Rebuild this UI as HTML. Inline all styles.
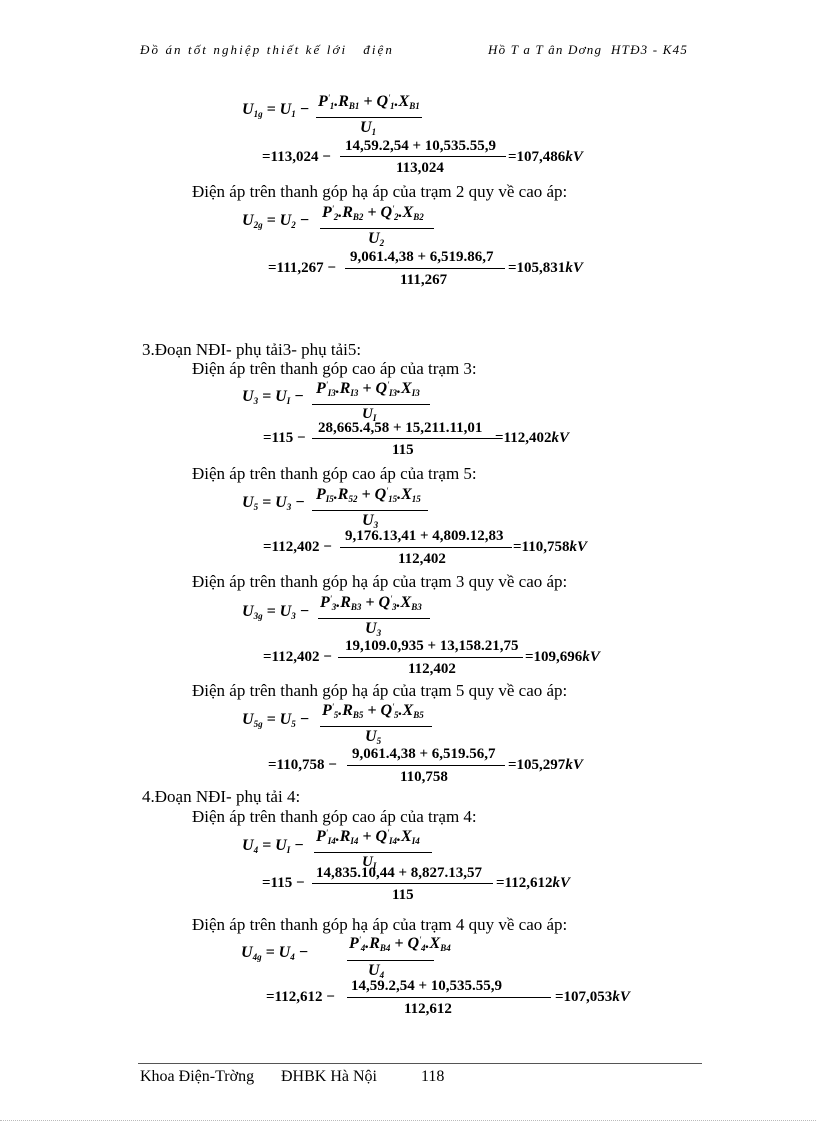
<!DOCTYPE html>
<html><head><meta charset="utf-8"><style>
body{margin:0;background:#fff}
#p{position:relative;width:816px;height:1123px;overflow:hidden;background:#fff;color:#000;font-family:"Liberation Serif",serif}
.a{position:absolute;white-space:nowrap;line-height:18px}
.tx{font-size:17px}
.m{font-size:16px;font-weight:bold;font-style:italic}
.n{font-size:15px;font-weight:bold}
.n i{font-style:italic}
sub{font-size:9px;vertical-align:-3px;line-height:0}
sup{font-size:9px;vertical-align:5px;line-height:0;font-weight:normal}
.b{position:absolute;height:1px;background:#000}
.h{font-size:13px;font-style:italic;letter-spacing:1.2px}
</style></head><body><div id="p">

<div class="a h" style="left:140px;top:41px;letter-spacing:2.1px">Đồ án tốt nghiệp thiết kế lới &nbsp; điện</div>
<div class="a h" style="left:488px;top:41px">Hồ T a T ân Dơng &nbsp;HTĐ3 - K45</div>

<!-- U1g -->
<div class="a m" style="left:242px;top:101px">U<sub>1g</sub> = U<sub>1</sub> −</div>
<div class="a m" style="left:318px;top:93px">P<sup>'</sup><sub>1</sub>.R<sub>B1</sub> + Q<sup>'</sup><sub>1</sub>.X<sub>B1</sub></div>
<div class="b" style="left:316px;width:106px;top:117px"></div>
<div class="a m" style="left:360px;top:119px">U<sub>1</sub></div>
<div class="a n" style="left:262px;top:148px">=113,024 −</div>
<div class="a n" style="left:345px;top:137px">14,59.2,54 + 10,535.55,9</div>
<div class="b" style="left:340px;width:166px;top:156px"></div>
<div class="a n" style="left:396px;top:159px">113,024</div>
<div class="a n" style="left:508px;top:148px">=107,486<i>kV</i></div>

<div class="a tx" style="left:192px;top:183px">Điện áp trên thanh góp hạ áp của trạm 2 quy về cao áp:</div>
<div class="a m" style="left:242px;top:212px">U<sub>2g</sub> = U<sub>2</sub> −</div>
<div class="a m" style="left:322px;top:204px">P<sup>'</sup><sub>2</sub>.R<sub>B2</sub> + Q<sup>'</sup><sub>2</sub>.X<sub>B2</sub></div>
<div class="b" style="left:320px;width:114px;top:228px"></div>
<div class="a m" style="left:368px;top:230px">U<sub>2</sub></div>
<div class="a n" style="left:268px;top:259px">=111,267 −</div>
<div class="a n" style="left:350px;top:248px">9,061.4,38 + 6,519.86,7</div>
<div class="b" style="left:345px;width:160px;top:268px"></div>
<div class="a n" style="left:400px;top:271px">111,267</div>
<div class="a n" style="left:508px;top:259px">=105,831<i>kV</i></div>

<div class="a tx" style="left:142px;top:341px">3.Đoạn NĐI- phụ tải3- phụ tải5:</div>
<div class="a tx" style="left:192px;top:360px">Điện áp trên thanh góp cao áp của trạm 3:</div>
<div class="a m" style="left:242px;top:388px">U<sub>3</sub> = U<sub>I</sub> −</div>
<div class="a m" style="left:316px;top:380px">P<sup>'</sup><sub>I3</sub>.R<sub>I3</sub> + Q<sup>'</sup><sub>I3</sub>.X<sub>I3</sub></div>
<div class="b" style="left:312px;width:118px;top:404px"></div>
<div class="a m" style="left:362px;top:405px;font-size:15px">U<sub>I</sub></div>
<div class="a n" style="left:263px;top:429px">=115 −</div>
<div class="a n" style="left:318px;top:419px">28,665.4,58 + 15,211.11,01</div>
<div class="b" style="left:312px;width:185px;top:438px"></div>
<div class="a n" style="left:392px;top:441px">115</div>
<div class="a n" style="left:495px;top:429px">=112,402<i>kV</i></div>

<div class="a tx" style="left:192px;top:465px">Điện áp trên thanh góp cao áp của trạm 5:</div>
<div class="a m" style="left:242px;top:494px">U<sub>5</sub> = U<sub>3</sub> −</div>
<div class="a m" style="left:316px;top:486px">P<sub>I5</sub>.R<sub>52</sub> + Q<sup>'</sup><sub>15</sub>.X<sub>15</sub></div>
<div class="b" style="left:312px;width:116px;top:510px"></div>
<div class="a m" style="left:362px;top:512px">U<sub>3</sub></div>
<div class="a n" style="left:263px;top:538px">=112,402 −</div>
<div class="a n" style="left:345px;top:527px">9,176.13,41 + 4,809.12,83</div>
<div class="b" style="left:340px;width:172px;top:547px"></div>
<div class="a n" style="left:398px;top:550px">112,402</div>
<div class="a n" style="left:513px;top:538px">=110,758<i>kV</i></div>

<div class="a tx" style="left:192px;top:573px">Điện áp trên thanh góp hạ áp của trạm 3 quy về cao áp:</div>
<div class="a m" style="left:242px;top:603px">U<sub>3g</sub> = U<sub>3</sub> −</div>
<div class="a m" style="left:320px;top:594px">P<sup>'</sup><sub>3</sub>.R<sub>B3</sub> + Q<sup>'</sup><sub>3</sub>.X<sub>B3</sub></div>
<div class="b" style="left:318px;width:112px;top:618px"></div>
<div class="a m" style="left:365px;top:620px">U<sub>3</sub></div>
<div class="a n" style="left:263px;top:648px">=112,402 −</div>
<div class="a n" style="left:345px;top:637px">19,109.0,935 + 13,158.21,75</div>
<div class="b" style="left:338px;width:185px;top:657px"></div>
<div class="a n" style="left:408px;top:660px">112,402</div>
<div class="a n" style="left:525px;top:648px">=109,696<i>kV</i></div>

<div class="a tx" style="left:192px;top:682px">Điện áp trên thanh góp hạ áp của trạm 5 quy về cao áp:</div>
<div class="a m" style="left:242px;top:711px">U<sub>5g</sub> = U<sub>5</sub> −</div>
<div class="a m" style="left:322px;top:702px">P<sup>'</sup><sub>5</sub>.R<sub>B5</sub> + Q<sup>'</sup><sub>5</sub>.X<sub>B5</sub></div>
<div class="b" style="left:320px;width:112px;top:726px"></div>
<div class="a m" style="left:365px;top:728px">U<sub>5</sub></div>
<div class="a n" style="left:268px;top:756px">=110,758 −</div>
<div class="a n" style="left:352px;top:745px">9,061.4,38 + 6,519.56,7</div>
<div class="b" style="left:347px;width:158px;top:765px"></div>
<div class="a n" style="left:400px;top:768px">110,758</div>
<div class="a n" style="left:508px;top:756px">=105,297<i>kV</i></div>

<div class="a tx" style="left:142px;top:788px">4.Đoạn NĐI- phụ tải 4:</div>
<div class="a tx" style="left:192px;top:808px">Điện áp trên thanh góp cao áp của trạm 4:</div>
<div class="a m" style="left:242px;top:837px">U<sub>4</sub> = U<sub>I</sub> −</div>
<div class="a m" style="left:316px;top:828px">P<sup>'</sup><sub>I4</sub>.R<sub>I4</sub> + Q<sup>'</sup><sub>I4</sub>.X<sub>I4</sub></div>
<div class="b" style="left:314px;width:118px;top:852px"></div>
<div class="a m" style="left:362px;top:853px;font-size:15px">U<sub>I</sub></div>
<div class="a n" style="left:262px;top:874px">=115 −</div>
<div class="a n" style="left:316px;top:864px">14,835.10,44 + 8,827.13,57</div>
<div class="b" style="left:312px;width:181px;top:883px"></div>
<div class="a n" style="left:392px;top:886px">115</div>
<div class="a n" style="left:496px;top:874px">=112,612<i>kV</i></div>

<div class="a tx" style="left:192px;top:916px">Điện áp trên thanh góp hạ áp của trạm 4 quy về cao áp:</div>
<div class="a m" style="left:241px;top:944px">U<sub>4g</sub> = U<sub>4</sub> −</div>
<div class="a m" style="left:349px;top:935px">P<sup>'</sup><sub>4</sub>.R<sub>B4</sub> + Q<sup>'</sup><sub>4</sub>.X<sub>B4</sub></div>
<div class="b" style="left:347px;width:87px;top:960px"></div>
<div class="a m" style="left:368px;top:962px">U<sub>4</sub></div>
<div class="a n" style="left:266px;top:988px">=112,612 −</div>
<div class="a n" style="left:351px;top:977px">14,59.2,54 + 10,535.55,9</div>
<div class="b" style="left:347px;width:204px;top:997px"></div>
<div class="a n" style="left:404px;top:1000px">112,612</div>
<div class="a n" style="left:555px;top:988px">=107,053<i>kV</i></div>

<div class="b" style="left:138px;width:564px;top:1063px;background:#555"></div>
<div class="a" style="left:140px;top:1068px;font-size:16px">Khoa Điện-Trờng</div>
<div class="a" style="left:281px;top:1068px;font-size:16px">ĐHBK Hà Nội</div>
<div class="a" style="left:421px;top:1068px;font-size:16px">118</div>
<div style="position:absolute;left:0;width:816px;top:1120px;border-top:1px dotted #bbb"></div>
</div></body></html>
